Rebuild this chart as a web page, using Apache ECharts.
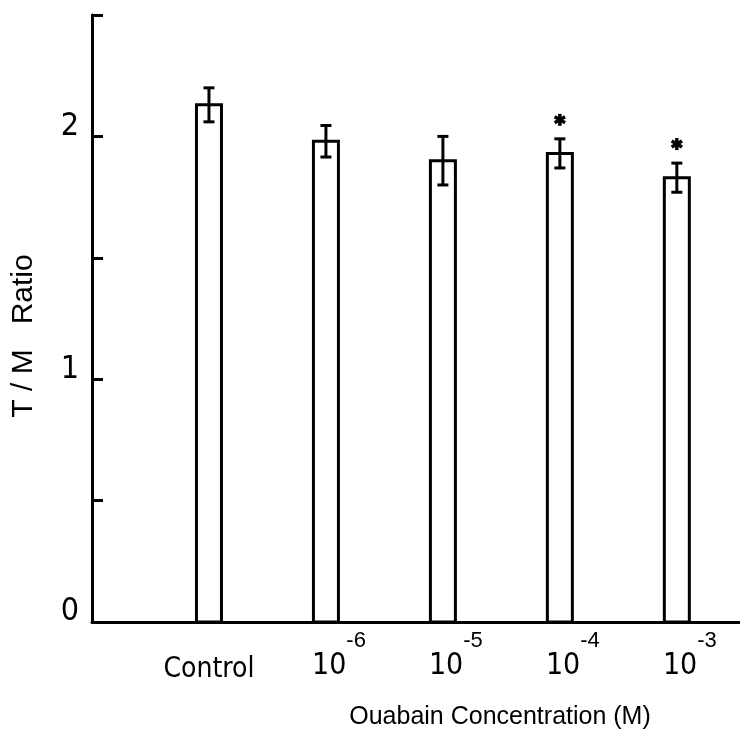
<!DOCTYPE html>
<html>
<head>
<meta charset="utf-8">
<script src="https://cdn.jsdelivr.net/npm/echarts@6/dist/echarts.min.js"></script>
<style>
  html, body { margin: 0; padding: 0; background: #fff; }
  #chart { width: 740px; height: 738px; }
</style>
</head>
<body>
<div id="chart"></div>
<script>
// Treatment groups (ouabain concentration, M) and their exponents
const groupLabels = ['Control', '10', '10', '10', '10'];
const groupExponents = ['', '-6', '-5', '-4', '-3'];
// Mean T/M ratio and standard error per group
const ratioMean = [2.13, 1.98, 1.90, 1.93, 1.83];
const ratioErr = [0.07, 0.065, 0.10, 0.06, 0.06];
// Groups marked with an asterisk
const significant = [0, 0, 0, 1, 1];

const NARROW = "'Liberation Sans Narrow', 'DejaVu Sans Condensed', 'Liberation Sans', sans-serif";
const SANS = "'Liberation Sans', Arial, sans-serif";

const barData = ratioMean.map((m, i) => [i + 1, m, ratioErr[i], significant[i]]);

function renderBar(params, api) {
  const x = api.value(0), v = api.value(1), e = api.value(2), sig = api.value(3);
  const top = api.coord([x, v]);
  const base = api.coord([x, 0]);
  const hi = api.coord([x, v + e]);
  const lo = api.coord([x, v - e]);
  const w = 25, cap = 11;
  const ink = { stroke: '#000', lineWidth: 3 };
  const children = [
    { type: 'rect', shape: { x: top[0] - w / 2, y: top[1], width: w, height: base[1] - top[1] },
      style: { fill: '#fff', stroke: '#000', lineWidth: 3 } },
    { type: 'line', shape: { x1: hi[0], y1: hi[1], x2: lo[0], y2: lo[1] }, style: ink },
    { type: 'line', shape: { x1: hi[0] - cap / 2, y1: hi[1], x2: hi[0] + cap / 2, y2: hi[1] }, style: ink },
    { type: 'line', shape: { x1: lo[0] - cap / 2, y1: lo[1], x2: lo[0] + cap / 2, y2: lo[1] }, style: ink }
  ];
  if (sig) {
    // six-pointed asterisk above the error bar
    const cx = hi[0], cy = hi[1] - 19, r = 6;
    [90, 30, 150].forEach(a => {
      const rad = a * Math.PI / 180;
      children.push({ type: 'line',
        shape: { x1: cx - r * Math.cos(rad), y1: cy - r * Math.sin(rad), x2: cx + r * Math.cos(rad), y2: cy + r * Math.sin(rad) },
        style: { stroke: '#000', lineWidth: 3.5 } });
    });
  }
  return { type: 'group', children };
}

const chart = echarts.init(document.getElementById('chart'), null, { renderer: 'canvas' });
chart.setOption({
  backgroundColor: '#fff',
  animation: false,
  grid: { left: 92, right: 0, top: 15, bottom: 116, containLabel: false, outerBoundsMode: 'none' },
  xAxis: {
    type: 'value', min: 0, max: 5.54,
    splitLine: { show: false },
    axisTick: { show: false },
    axisLine: { lineStyle: { color: '#000', width: 3 } },
    axisLabel: {
      customValues: [1, 2, 3, 4, 5],
      margin: 8,
      color: '#000',
      formatter: (val) => {
        const i = Math.round(val) - 1;
        return groupExponents[i]
          ? '{b|' + groupLabels[i] + '}{s|' + groupExponents[i] + '}'
          : '{c|' + groupLabels[i] + '}';
      },
      rich: {
        b: { fontFamily: NARROW, fontSize: 30, color: '#000', verticalAlign: 'bottom', padding: [0, 0, 0, 26] },
        s: { fontFamily: SANS, fontSize: 22, color: '#000', verticalAlign: 'top', padding: [0, 0, 29, 0] },
        c: { fontFamily: NARROW, fontSize: 28, color: '#000', padding: [26, 0, 0, 0] }
      }
    },
    name: 'Ouabain Concentration (M)',
    nameLocation: 'middle',
    nameGap: 83,
    nameTextStyle: { fontFamily: SANS, fontSize: 25, color: '#000', padding: [0, 0, 0, 168] }
  },
  yAxis: {
    type: 'value', min: 0, max: 2.5, interval: 0.5,
    splitLine: { show: false },
    axisLine: { show: true, lineStyle: { color: '#000', width: 3 } },
    axisTick: { show: true, inside: true, length: 11, lineStyle: { color: '#000', width: 3 } },
    axisLabel: {
      formatter: (v) => (Number.isInteger(v) ? String(v) : ''),
      fontFamily: NARROW, fontSize: 32, color: '#000', margin: 13,
      verticalAlign: 'bottom', lineHeight: 20
    },
    name: 'T / M   Ratio',
    nameLocation: 'middle',
    nameGap: 53,
    nameTextStyle: { fontFamily: SANS, fontSize: 30, color: '#000', padding: [0, 35, 0, 0] }
  },
  series: [{
    type: 'custom',
    renderItem: renderBar,
    encode: { x: 0, y: 1 },
    data: barData,
    clip: false
  }]
});
</script>
</body>
</html>
